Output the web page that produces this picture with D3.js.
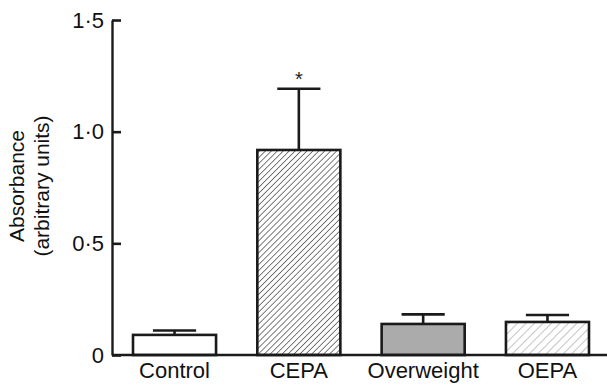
<!DOCTYPE html>
<html>
<head>
<meta charset="utf-8">
<script src="https://cdn.jsdelivr.net/npm/d3@7"></script>
<style>
  html, body { margin: 0; padding: 0; background: #fff; }
  svg { display: block; font-family: "Liberation Sans", Arial, Helvetica, sans-serif; }
</style>
</head>
<body>
<svg id="chart" width="607" height="384"></svg>
<script>
// Group names, mean absorbance and standard error of each group
const categories = ["Control", "CEPA", "Overweight", "OEPA"];
const means = [0.09, 0.918, 0.139, 0.148];
const errors = [0.02, 0.274, 0.043, 0.031];
const significant = [false, true, false, false];
const yTicks = [0, 0.5, 1.0, 1.5];
const yLabelLines = ["Absorbance", "(arbitrary units)"];

const svg = d3.select("#chart");
const axisLeft = 112, axisBottom = 355, axisTop = 20, plotRight = 607;
const fontSize = 22;

const y = d3.scaleLinear().domain([0, 1.5]).range([axisBottom, axisTop]);
const x = d3.scaleBand().domain(categories)
  .range([axisLeft, 610]).paddingInner(0.332).paddingOuter(0.169);

// Fill patterns: dense dark hatching and lighter grey hatching
const defs = svg.append("defs");
function hatch(id, spacing, color, width) {
  const p = defs.append("pattern").attr("id", id)
    .attr("patternUnits", "userSpaceOnUse")
    .attr("width", spacing).attr("height", spacing)
    .attr("patternTransform", "rotate(45)");
  p.append("rect").attr("width", spacing).attr("height", spacing).attr("fill", "#fff");
  p.append("line").attr("x1", 0).attr("y1", 0).attr("x2", 0).attr("y2", spacing)
    .attr("stroke", color).attr("stroke-width", width);
}
hatch("hatchDark", 4.2, "#111", 1.1);
hatch("hatchLight", 6, "#8a8a8a", 1);
const fills = ["#ffffff", "url(#hatchDark)", "#ababab", "url(#hatchLight)"];

// Error bars (drawn under the bars so the stem starts at the bar top)
const capW = x.bandwidth() * 0.52;
const eb = svg.append("g").attr("stroke", "#1a1a1a").attr("stroke-width", 2.6);
categories.forEach((c, i) => {
  const cx = x(c) + x.bandwidth() / 2;
  eb.append("line").attr("x1", cx).attr("x2", cx)
    .attr("y1", y(means[i])).attr("y2", y(means[i] + errors[i]));
  eb.append("line").attr("x1", cx - capW / 2).attr("x2", cx + capW / 2)
    .attr("y1", y(means[i] + errors[i])).attr("y2", y(means[i] + errors[i]));
});

// Bars
svg.append("g").selectAll("rect").data(categories).join("rect")
  .attr("x", d => x(d))
  .attr("y", (d, i) => y(means[i]))
  .attr("width", x.bandwidth())
  .attr("height", (d, i) => axisBottom - y(means[i]))
  .attr("fill", (d, i) => fills[i])
  .attr("stroke", "#1a1a1a").attr("stroke-width", 2.6);

// Significance marker
svg.append("g").selectAll("text").data(categories.filter((c, i) => significant[i])).join("text")
  .attr("x", d => x(d) + x.bandwidth() / 2)
  .attr("y", d => y(means[categories.indexOf(d)] + errors[categories.indexOf(d)]) - 3)
  .attr("text-anchor", "middle").attr("font-size", 20).attr("fill", "#222")
  .text("*");

// Baseline
svg.append("line").attr("x1", axisLeft).attr("x2", plotRight)
  .attr("y1", axisBottom).attr("y2", axisBottom)
  .attr("stroke", "#1a1a1a").attr("stroke-width", 2.4);

// Y axis with inward ticks
const yAxis = d3.axisLeft(y).tickValues(yTicks).tickSizeInner(-9).tickSizeOuter(0)
  .tickPadding(8).tickFormat(d => d === 0 ? "0" : d3.format(".1f")(d).replace(".", "\u00b7"));
const ga = svg.append("g").attr("transform", `translate(${axisLeft},0)`).call(yAxis);
ga.select(".domain").attr("stroke", "#1a1a1a").attr("stroke-width", 2.4);
ga.selectAll(".tick line").attr("stroke", "#1a1a1a").attr("stroke-width", 2.6);
ga.selectAll(".tick text").attr("font-size", fontSize).attr("fill", "#111")
  .attr("font-family", "'Liberation Sans', Arial, sans-serif");

// Category labels
svg.append("g").selectAll("text").data(categories).join("text")
  .attr("x", d => x(d) + x.bandwidth() / 2).attr("y", 378)
  .attr("text-anchor", "middle").attr("font-size", fontSize).attr("fill", "#111")
  .text(d => d);

// Y axis title
const yt = svg.append("text").attr("transform", "translate(17,186) rotate(-90)")
  .attr("text-anchor", "middle").attr("font-size", 21).attr("fill", "#111");
yLabelLines.forEach((t, i) => {
  yt.append("tspan").attr("x", 0).attr("dy", i === 0 ? "0.35em" : "1.15em").text(t);
});
</script>
</body>
</html>
